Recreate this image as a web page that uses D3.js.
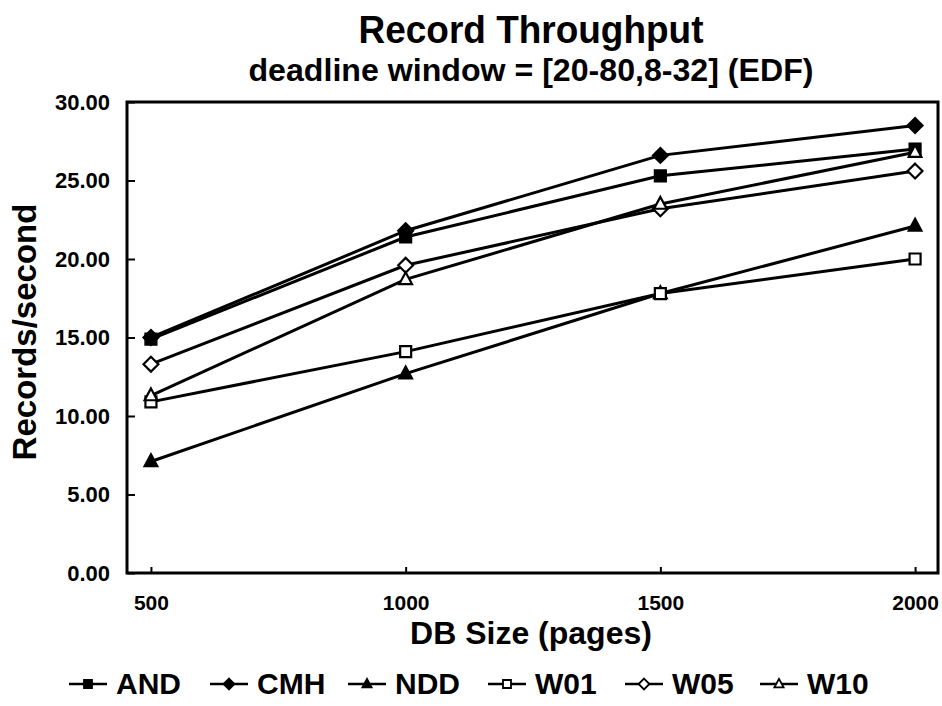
<!DOCTYPE html>
<html>
<head>
<meta charset="utf-8">
<script src="https://cdn.jsdelivr.net/npm/d3@7"></script>
<style>
  body { margin: 0; background: #fff; }
  svg { display: block; }
  text { font-family: "Liberation Sans", Arial, sans-serif; font-weight: bold; fill: #000; }
</style>
</head>
<body>
<svg id="chart" width="942" height="706"></svg>
<script>
// data
const dbSizes = [500, 1000, 1500, 2000];
const seriesNames = ["AND", "CMH", "NDD", "W01", "W05", "W10"];
const andVals = [14.9, 21.4, 25.3, 27.0];
const cmhVals = [15.0, 21.8, 26.6, 28.5];
const nddVals = [7.1, 12.7, 17.8, 22.1];
const w01Vals = [10.9, 14.1, 17.8, 20.0];
const w05Vals = [13.3, 19.6, 23.2, 25.6];
const w10Vals = [11.3, 18.7, 23.5, 26.8];
const yTicks = [0, 5, 10, 15, 20, 25, 30];

const shapes = ["square", "diamond", "triangle", "square", "diamond", "triangle"];
const allVals = [andVals, cmhVals, nddVals, w01Vals, w05Vals, w10Vals];
const series = seriesNames.map((name, i) => ({
  name, values: allVals[i], shape: shapes[i], filled: i < 3
}));

const svg = d3.select("#chart");
const m = { left: 127, right: 4, top: 102, bottom: 133 };
const W = 942, H = 706;

const x = d3.scaleLinear().domain([453, 2045]).range([m.left, W - m.right]);
const y = d3.scaleLinear().domain([0, 30]).range([H - m.bottom, m.top]);

const font = "'Liberation Sans', Arial, sans-serif";

// title
svg.append("text").attr("x", 531).attr("y", 43).attr("text-anchor", "middle")
  .style("font-size", "38px")
  .attr("textLength", 345).attr("lengthAdjust", "spacingAndGlyphs")
  .text("Record Throughput");
svg.append("text").attr("x", 531).attr("y", 81).attr("text-anchor", "middle")
  .style("font-size", "31px")
  .attr("textLength", 565).attr("lengthAdjust", "spacingAndGlyphs")
  .text("deadline window = [20-80,8-32] (EDF)");

// frame
svg.append("rect")
  .attr("x", m.left).attr("y", m.top)
  .attr("width", W - m.right - m.left).attr("height", H - m.bottom - m.top)
  .attr("fill", "none").attr("stroke", "#000").attr("stroke-width", 3);

// y axis
const yAxis = d3.axisRight(y).tickValues(yTicks).tickSize(8).tickFormat(d3.format(".2f"));
const gy = svg.append("g").attr("transform", `translate(${m.left},0)`).call(yAxis);
gy.select(".domain").remove();
gy.selectAll(".tick line").attr("stroke-width", 2);
gy.selectAll(".tick text")
  .attr("x", -17).attr("text-anchor", "end")
  .style("font-size", "22px").style("font-family", font).style("font-weight", "bold");

// x axis
const xAxis = d3.axisTop(x).tickValues(dbSizes).tickSize(6).tickFormat(d3.format("d"));
const gx = svg.append("g").attr("transform", `translate(0,${H - m.bottom})`).call(xAxis);
gx.select(".domain").remove();
gx.selectAll(".tick line").attr("stroke-width", 2);
gx.selectAll(".tick text")
  .attr("y", 37).attr("dy", 0)
  .style("font-size", "21px").style("font-family", font).style("font-weight", "bold");

// axis titles
svg.append("text").attr("x", 531).attr("y", 644).attr("text-anchor", "middle")
  .style("font-size", "32px").text("DB Size (pages)");
svg.append("text")
  .attr("transform", "translate(36,332) rotate(-90)")
  .attr("text-anchor", "middle")
  .style("font-size", "33px").text("Records/second");

// markers
function markerPath(shape, s) {
  if (shape === "square") return `M${-s},${-s}H${s}V${s}H${-s}Z`;
  if (shape === "diamond") return `M0,${-s * 1.35}L${s * 1.35},0L0,${s * 1.35}L${-s * 1.35},0Z`;
  return `M0,${-s * 1.3}L${s * 1.15},${s * 0.85}L${-s * 1.15},${s * 0.85}Z`;
}

const line = d3.line().x((d, i) => x(dbSizes[i])).y(d => y(d));

const gs = svg.append("g").selectAll("g").data(series).join("g");
gs.append("path")
  .attr("d", d => line(d.values))
  .attr("fill", "none").attr("stroke", "#000").attr("stroke-width", 3);
gs.selectAll(".pt")
  .data(d => d.values.map((v, i) => ({ v, i, s: d })))
  .join("path")
  .attr("class", "pt")
  .attr("transform", d => `translate(${x(dbSizes[d.i])},${y(d.v)})`)
  .attr("d", d => markerPath(d.s.shape, 5.5))
  .attr("fill", d => d.s.filled ? "#000" : "#fff")
  .attr("stroke", "#000").attr("stroke-width", 2.2);

// legend
const legendX = [69, 210, 348, 488, 625, 760];
const lg = svg.append("g").selectAll("g").data(series).join("g")
  .attr("transform", (d, i) => `translate(${legendX[i]},684)`);
lg.append("line").attr("x1", 0).attr("x2", 38).attr("y1", 0).attr("y2", 0)
  .attr("stroke", "#000").attr("stroke-width", 2.5);
lg.append("path")
  .attr("transform", "translate(19,0)")
  .attr("d", d => markerPath(d.shape, 4))
  .attr("fill", d => d.filled ? "#000" : "#fff")
  .attr("stroke", "#000").attr("stroke-width", 1.8);
lg.append("text").attr("x", 47).attr("y", 10)
  .style("font-size", "30px").text(d => d.name);
</script>
</body>
</html>
